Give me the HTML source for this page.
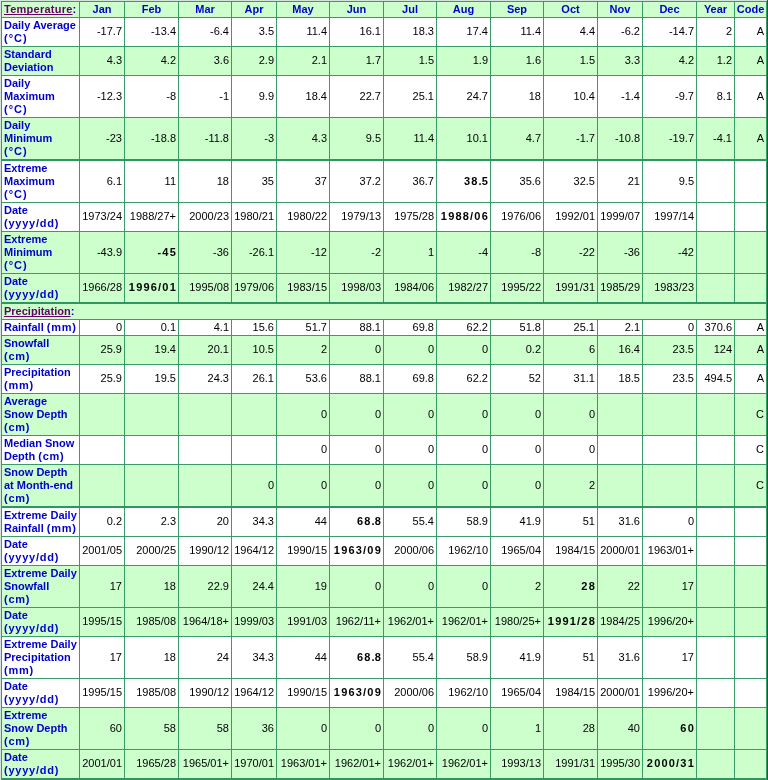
<!DOCTYPE html>
<html><head><meta charset="utf-8"><style>
*{margin:0;padding:0;box-sizing:border-box}
html,body{width:768px;height:780px;overflow:hidden;background:#d5e5dd}
body{position:relative;font-family:"Liberation Sans",sans-serif;font-size:11px;line-height:13px;color:#000}
.r{position:absolute;left:1px;width:766px}
.h{position:absolute;left:1px;width:766px;background:#389b68}
.hk{position:absolute;left:1px;width:766px;background:#2f9661}
.v{position:absolute;width:1px;background:#389b68}
.c{position:absolute;display:flex;align-items:center;white-space:nowrap}
#tx{position:absolute;left:0;top:0;width:768px;height:780px;will-change:transform}
.l{font-weight:bold;color:#0000cc;padding-left:2px;align-items:flex-start;padding-top:1px}
.d{justify-content:flex-end;padding-right:2px;align-items:flex-start}
.m{font-weight:bold;color:#0000cc;justify-content:center}
.b{font-weight:bold;letter-spacing:1.2px;padding-right:1px}
a{color:#660066;text-decoration:underline;text-decoration-skip-ink:none}
.t{letter-spacing:.25px}
.p{letter-spacing:.75px}
.q{letter-spacing:1px}
</style></head><body>
<div class="r" style="top:2px;height:15px;background:#ccffcc"></div>
<div class="v" style="left:79px;top:2px;height:15px"></div>
<div class="v" style="left:124px;top:2px;height:15px"></div>
<div class="v" style="left:178px;top:2px;height:15px"></div>
<div class="v" style="left:231px;top:2px;height:15px"></div>
<div class="v" style="left:276px;top:2px;height:15px"></div>
<div class="v" style="left:329px;top:2px;height:15px"></div>
<div class="v" style="left:383px;top:2px;height:15px"></div>
<div class="v" style="left:436px;top:2px;height:15px"></div>
<div class="v" style="left:490px;top:2px;height:15px"></div>
<div class="v" style="left:543px;top:2px;height:15px"></div>
<div class="v" style="left:597px;top:2px;height:15px"></div>
<div class="v" style="left:642px;top:2px;height:15px"></div>
<div class="v" style="left:696px;top:2px;height:15px"></div>
<div class="v" style="left:734px;top:2px;height:15px"></div>
<div class="r" style="top:18px;height:28px;background:#ffffff"></div>
<div class="v" style="left:79px;top:18px;height:28px"></div>
<div class="v" style="left:124px;top:18px;height:28px"></div>
<div class="v" style="left:178px;top:18px;height:28px"></div>
<div class="v" style="left:231px;top:18px;height:28px"></div>
<div class="v" style="left:276px;top:18px;height:28px"></div>
<div class="v" style="left:329px;top:18px;height:28px"></div>
<div class="v" style="left:383px;top:18px;height:28px"></div>
<div class="v" style="left:436px;top:18px;height:28px"></div>
<div class="v" style="left:490px;top:18px;height:28px"></div>
<div class="v" style="left:543px;top:18px;height:28px"></div>
<div class="v" style="left:597px;top:18px;height:28px"></div>
<div class="v" style="left:642px;top:18px;height:28px"></div>
<div class="v" style="left:696px;top:18px;height:28px"></div>
<div class="v" style="left:734px;top:18px;height:28px"></div>
<div class="r" style="top:47px;height:28px;background:#ccffcc"></div>
<div class="v" style="left:79px;top:47px;height:28px"></div>
<div class="v" style="left:124px;top:47px;height:28px"></div>
<div class="v" style="left:178px;top:47px;height:28px"></div>
<div class="v" style="left:231px;top:47px;height:28px"></div>
<div class="v" style="left:276px;top:47px;height:28px"></div>
<div class="v" style="left:329px;top:47px;height:28px"></div>
<div class="v" style="left:383px;top:47px;height:28px"></div>
<div class="v" style="left:436px;top:47px;height:28px"></div>
<div class="v" style="left:490px;top:47px;height:28px"></div>
<div class="v" style="left:543px;top:47px;height:28px"></div>
<div class="v" style="left:597px;top:47px;height:28px"></div>
<div class="v" style="left:642px;top:47px;height:28px"></div>
<div class="v" style="left:696px;top:47px;height:28px"></div>
<div class="v" style="left:734px;top:47px;height:28px"></div>
<div class="r" style="top:76px;height:41px;background:#ffffff"></div>
<div class="v" style="left:79px;top:76px;height:41px"></div>
<div class="v" style="left:124px;top:76px;height:41px"></div>
<div class="v" style="left:178px;top:76px;height:41px"></div>
<div class="v" style="left:231px;top:76px;height:41px"></div>
<div class="v" style="left:276px;top:76px;height:41px"></div>
<div class="v" style="left:329px;top:76px;height:41px"></div>
<div class="v" style="left:383px;top:76px;height:41px"></div>
<div class="v" style="left:436px;top:76px;height:41px"></div>
<div class="v" style="left:490px;top:76px;height:41px"></div>
<div class="v" style="left:543px;top:76px;height:41px"></div>
<div class="v" style="left:597px;top:76px;height:41px"></div>
<div class="v" style="left:642px;top:76px;height:41px"></div>
<div class="v" style="left:696px;top:76px;height:41px"></div>
<div class="v" style="left:734px;top:76px;height:41px"></div>
<div class="r" style="top:118px;height:41px;background:#ccffcc"></div>
<div class="v" style="left:79px;top:118px;height:41px"></div>
<div class="v" style="left:124px;top:118px;height:41px"></div>
<div class="v" style="left:178px;top:118px;height:41px"></div>
<div class="v" style="left:231px;top:118px;height:41px"></div>
<div class="v" style="left:276px;top:118px;height:41px"></div>
<div class="v" style="left:329px;top:118px;height:41px"></div>
<div class="v" style="left:383px;top:118px;height:41px"></div>
<div class="v" style="left:436px;top:118px;height:41px"></div>
<div class="v" style="left:490px;top:118px;height:41px"></div>
<div class="v" style="left:543px;top:118px;height:41px"></div>
<div class="v" style="left:597px;top:118px;height:41px"></div>
<div class="v" style="left:642px;top:118px;height:41px"></div>
<div class="v" style="left:696px;top:118px;height:41px"></div>
<div class="v" style="left:734px;top:118px;height:41px"></div>
<div class="r" style="top:161px;height:41px;background:#ffffff"></div>
<div class="v" style="left:79px;top:161px;height:41px"></div>
<div class="v" style="left:124px;top:161px;height:41px"></div>
<div class="v" style="left:178px;top:161px;height:41px"></div>
<div class="v" style="left:231px;top:161px;height:41px"></div>
<div class="v" style="left:276px;top:161px;height:41px"></div>
<div class="v" style="left:329px;top:161px;height:41px"></div>
<div class="v" style="left:383px;top:161px;height:41px"></div>
<div class="v" style="left:436px;top:161px;height:41px"></div>
<div class="v" style="left:490px;top:161px;height:41px"></div>
<div class="v" style="left:543px;top:161px;height:41px"></div>
<div class="v" style="left:597px;top:161px;height:41px"></div>
<div class="v" style="left:642px;top:161px;height:41px"></div>
<div class="v" style="left:696px;top:161px;height:41px"></div>
<div class="v" style="left:734px;top:161px;height:41px"></div>
<div class="r" style="top:203px;height:28px;background:#ffffff"></div>
<div class="v" style="left:79px;top:203px;height:28px"></div>
<div class="v" style="left:124px;top:203px;height:28px"></div>
<div class="v" style="left:178px;top:203px;height:28px"></div>
<div class="v" style="left:231px;top:203px;height:28px"></div>
<div class="v" style="left:276px;top:203px;height:28px"></div>
<div class="v" style="left:329px;top:203px;height:28px"></div>
<div class="v" style="left:383px;top:203px;height:28px"></div>
<div class="v" style="left:436px;top:203px;height:28px"></div>
<div class="v" style="left:490px;top:203px;height:28px"></div>
<div class="v" style="left:543px;top:203px;height:28px"></div>
<div class="v" style="left:597px;top:203px;height:28px"></div>
<div class="v" style="left:642px;top:203px;height:28px"></div>
<div class="v" style="left:696px;top:203px;height:28px"></div>
<div class="v" style="left:734px;top:203px;height:28px"></div>
<div class="r" style="top:232px;height:41px;background:#ccffcc"></div>
<div class="v" style="left:79px;top:232px;height:41px"></div>
<div class="v" style="left:124px;top:232px;height:41px"></div>
<div class="v" style="left:178px;top:232px;height:41px"></div>
<div class="v" style="left:231px;top:232px;height:41px"></div>
<div class="v" style="left:276px;top:232px;height:41px"></div>
<div class="v" style="left:329px;top:232px;height:41px"></div>
<div class="v" style="left:383px;top:232px;height:41px"></div>
<div class="v" style="left:436px;top:232px;height:41px"></div>
<div class="v" style="left:490px;top:232px;height:41px"></div>
<div class="v" style="left:543px;top:232px;height:41px"></div>
<div class="v" style="left:597px;top:232px;height:41px"></div>
<div class="v" style="left:642px;top:232px;height:41px"></div>
<div class="v" style="left:696px;top:232px;height:41px"></div>
<div class="v" style="left:734px;top:232px;height:41px"></div>
<div class="r" style="top:274px;height:28px;background:#ccffcc"></div>
<div class="v" style="left:79px;top:274px;height:28px"></div>
<div class="v" style="left:124px;top:274px;height:28px"></div>
<div class="v" style="left:178px;top:274px;height:28px"></div>
<div class="v" style="left:231px;top:274px;height:28px"></div>
<div class="v" style="left:276px;top:274px;height:28px"></div>
<div class="v" style="left:329px;top:274px;height:28px"></div>
<div class="v" style="left:383px;top:274px;height:28px"></div>
<div class="v" style="left:436px;top:274px;height:28px"></div>
<div class="v" style="left:490px;top:274px;height:28px"></div>
<div class="v" style="left:543px;top:274px;height:28px"></div>
<div class="v" style="left:597px;top:274px;height:28px"></div>
<div class="v" style="left:642px;top:274px;height:28px"></div>
<div class="v" style="left:696px;top:274px;height:28px"></div>
<div class="v" style="left:734px;top:274px;height:28px"></div>
<div class="r" style="top:304px;height:15px;background:#ccffcc"></div>
<div class="r" style="top:320px;height:15px;background:#ffffff"></div>
<div class="v" style="left:79px;top:320px;height:15px"></div>
<div class="v" style="left:124px;top:320px;height:15px"></div>
<div class="v" style="left:178px;top:320px;height:15px"></div>
<div class="v" style="left:231px;top:320px;height:15px"></div>
<div class="v" style="left:276px;top:320px;height:15px"></div>
<div class="v" style="left:329px;top:320px;height:15px"></div>
<div class="v" style="left:383px;top:320px;height:15px"></div>
<div class="v" style="left:436px;top:320px;height:15px"></div>
<div class="v" style="left:490px;top:320px;height:15px"></div>
<div class="v" style="left:543px;top:320px;height:15px"></div>
<div class="v" style="left:597px;top:320px;height:15px"></div>
<div class="v" style="left:642px;top:320px;height:15px"></div>
<div class="v" style="left:696px;top:320px;height:15px"></div>
<div class="v" style="left:734px;top:320px;height:15px"></div>
<div class="r" style="top:336px;height:28px;background:#ccffcc"></div>
<div class="v" style="left:79px;top:336px;height:28px"></div>
<div class="v" style="left:124px;top:336px;height:28px"></div>
<div class="v" style="left:178px;top:336px;height:28px"></div>
<div class="v" style="left:231px;top:336px;height:28px"></div>
<div class="v" style="left:276px;top:336px;height:28px"></div>
<div class="v" style="left:329px;top:336px;height:28px"></div>
<div class="v" style="left:383px;top:336px;height:28px"></div>
<div class="v" style="left:436px;top:336px;height:28px"></div>
<div class="v" style="left:490px;top:336px;height:28px"></div>
<div class="v" style="left:543px;top:336px;height:28px"></div>
<div class="v" style="left:597px;top:336px;height:28px"></div>
<div class="v" style="left:642px;top:336px;height:28px"></div>
<div class="v" style="left:696px;top:336px;height:28px"></div>
<div class="v" style="left:734px;top:336px;height:28px"></div>
<div class="r" style="top:365px;height:28px;background:#ffffff"></div>
<div class="v" style="left:79px;top:365px;height:28px"></div>
<div class="v" style="left:124px;top:365px;height:28px"></div>
<div class="v" style="left:178px;top:365px;height:28px"></div>
<div class="v" style="left:231px;top:365px;height:28px"></div>
<div class="v" style="left:276px;top:365px;height:28px"></div>
<div class="v" style="left:329px;top:365px;height:28px"></div>
<div class="v" style="left:383px;top:365px;height:28px"></div>
<div class="v" style="left:436px;top:365px;height:28px"></div>
<div class="v" style="left:490px;top:365px;height:28px"></div>
<div class="v" style="left:543px;top:365px;height:28px"></div>
<div class="v" style="left:597px;top:365px;height:28px"></div>
<div class="v" style="left:642px;top:365px;height:28px"></div>
<div class="v" style="left:696px;top:365px;height:28px"></div>
<div class="v" style="left:734px;top:365px;height:28px"></div>
<div class="r" style="top:394px;height:41px;background:#ccffcc"></div>
<div class="v" style="left:79px;top:394px;height:41px"></div>
<div class="v" style="left:124px;top:394px;height:41px"></div>
<div class="v" style="left:178px;top:394px;height:41px"></div>
<div class="v" style="left:231px;top:394px;height:41px"></div>
<div class="v" style="left:276px;top:394px;height:41px"></div>
<div class="v" style="left:329px;top:394px;height:41px"></div>
<div class="v" style="left:383px;top:394px;height:41px"></div>
<div class="v" style="left:436px;top:394px;height:41px"></div>
<div class="v" style="left:490px;top:394px;height:41px"></div>
<div class="v" style="left:543px;top:394px;height:41px"></div>
<div class="v" style="left:597px;top:394px;height:41px"></div>
<div class="v" style="left:642px;top:394px;height:41px"></div>
<div class="v" style="left:696px;top:394px;height:41px"></div>
<div class="v" style="left:734px;top:394px;height:41px"></div>
<div class="r" style="top:436px;height:28px;background:#ffffff"></div>
<div class="v" style="left:79px;top:436px;height:28px"></div>
<div class="v" style="left:124px;top:436px;height:28px"></div>
<div class="v" style="left:178px;top:436px;height:28px"></div>
<div class="v" style="left:231px;top:436px;height:28px"></div>
<div class="v" style="left:276px;top:436px;height:28px"></div>
<div class="v" style="left:329px;top:436px;height:28px"></div>
<div class="v" style="left:383px;top:436px;height:28px"></div>
<div class="v" style="left:436px;top:436px;height:28px"></div>
<div class="v" style="left:490px;top:436px;height:28px"></div>
<div class="v" style="left:543px;top:436px;height:28px"></div>
<div class="v" style="left:597px;top:436px;height:28px"></div>
<div class="v" style="left:642px;top:436px;height:28px"></div>
<div class="v" style="left:696px;top:436px;height:28px"></div>
<div class="v" style="left:734px;top:436px;height:28px"></div>
<div class="r" style="top:465px;height:41px;background:#ccffcc"></div>
<div class="v" style="left:79px;top:465px;height:41px"></div>
<div class="v" style="left:124px;top:465px;height:41px"></div>
<div class="v" style="left:178px;top:465px;height:41px"></div>
<div class="v" style="left:231px;top:465px;height:41px"></div>
<div class="v" style="left:276px;top:465px;height:41px"></div>
<div class="v" style="left:329px;top:465px;height:41px"></div>
<div class="v" style="left:383px;top:465px;height:41px"></div>
<div class="v" style="left:436px;top:465px;height:41px"></div>
<div class="v" style="left:490px;top:465px;height:41px"></div>
<div class="v" style="left:543px;top:465px;height:41px"></div>
<div class="v" style="left:597px;top:465px;height:41px"></div>
<div class="v" style="left:642px;top:465px;height:41px"></div>
<div class="v" style="left:696px;top:465px;height:41px"></div>
<div class="v" style="left:734px;top:465px;height:41px"></div>
<div class="r" style="top:508px;height:28px;background:#ffffff"></div>
<div class="v" style="left:79px;top:508px;height:28px"></div>
<div class="v" style="left:124px;top:508px;height:28px"></div>
<div class="v" style="left:178px;top:508px;height:28px"></div>
<div class="v" style="left:231px;top:508px;height:28px"></div>
<div class="v" style="left:276px;top:508px;height:28px"></div>
<div class="v" style="left:329px;top:508px;height:28px"></div>
<div class="v" style="left:383px;top:508px;height:28px"></div>
<div class="v" style="left:436px;top:508px;height:28px"></div>
<div class="v" style="left:490px;top:508px;height:28px"></div>
<div class="v" style="left:543px;top:508px;height:28px"></div>
<div class="v" style="left:597px;top:508px;height:28px"></div>
<div class="v" style="left:642px;top:508px;height:28px"></div>
<div class="v" style="left:696px;top:508px;height:28px"></div>
<div class="v" style="left:734px;top:508px;height:28px"></div>
<div class="r" style="top:537px;height:28px;background:#ffffff"></div>
<div class="v" style="left:79px;top:537px;height:28px"></div>
<div class="v" style="left:124px;top:537px;height:28px"></div>
<div class="v" style="left:178px;top:537px;height:28px"></div>
<div class="v" style="left:231px;top:537px;height:28px"></div>
<div class="v" style="left:276px;top:537px;height:28px"></div>
<div class="v" style="left:329px;top:537px;height:28px"></div>
<div class="v" style="left:383px;top:537px;height:28px"></div>
<div class="v" style="left:436px;top:537px;height:28px"></div>
<div class="v" style="left:490px;top:537px;height:28px"></div>
<div class="v" style="left:543px;top:537px;height:28px"></div>
<div class="v" style="left:597px;top:537px;height:28px"></div>
<div class="v" style="left:642px;top:537px;height:28px"></div>
<div class="v" style="left:696px;top:537px;height:28px"></div>
<div class="v" style="left:734px;top:537px;height:28px"></div>
<div class="r" style="top:566px;height:41px;background:#ccffcc"></div>
<div class="v" style="left:79px;top:566px;height:41px"></div>
<div class="v" style="left:124px;top:566px;height:41px"></div>
<div class="v" style="left:178px;top:566px;height:41px"></div>
<div class="v" style="left:231px;top:566px;height:41px"></div>
<div class="v" style="left:276px;top:566px;height:41px"></div>
<div class="v" style="left:329px;top:566px;height:41px"></div>
<div class="v" style="left:383px;top:566px;height:41px"></div>
<div class="v" style="left:436px;top:566px;height:41px"></div>
<div class="v" style="left:490px;top:566px;height:41px"></div>
<div class="v" style="left:543px;top:566px;height:41px"></div>
<div class="v" style="left:597px;top:566px;height:41px"></div>
<div class="v" style="left:642px;top:566px;height:41px"></div>
<div class="v" style="left:696px;top:566px;height:41px"></div>
<div class="v" style="left:734px;top:566px;height:41px"></div>
<div class="r" style="top:608px;height:28px;background:#ccffcc"></div>
<div class="v" style="left:79px;top:608px;height:28px"></div>
<div class="v" style="left:124px;top:608px;height:28px"></div>
<div class="v" style="left:178px;top:608px;height:28px"></div>
<div class="v" style="left:231px;top:608px;height:28px"></div>
<div class="v" style="left:276px;top:608px;height:28px"></div>
<div class="v" style="left:329px;top:608px;height:28px"></div>
<div class="v" style="left:383px;top:608px;height:28px"></div>
<div class="v" style="left:436px;top:608px;height:28px"></div>
<div class="v" style="left:490px;top:608px;height:28px"></div>
<div class="v" style="left:543px;top:608px;height:28px"></div>
<div class="v" style="left:597px;top:608px;height:28px"></div>
<div class="v" style="left:642px;top:608px;height:28px"></div>
<div class="v" style="left:696px;top:608px;height:28px"></div>
<div class="v" style="left:734px;top:608px;height:28px"></div>
<div class="r" style="top:637px;height:41px;background:#ffffff"></div>
<div class="v" style="left:79px;top:637px;height:41px"></div>
<div class="v" style="left:124px;top:637px;height:41px"></div>
<div class="v" style="left:178px;top:637px;height:41px"></div>
<div class="v" style="left:231px;top:637px;height:41px"></div>
<div class="v" style="left:276px;top:637px;height:41px"></div>
<div class="v" style="left:329px;top:637px;height:41px"></div>
<div class="v" style="left:383px;top:637px;height:41px"></div>
<div class="v" style="left:436px;top:637px;height:41px"></div>
<div class="v" style="left:490px;top:637px;height:41px"></div>
<div class="v" style="left:543px;top:637px;height:41px"></div>
<div class="v" style="left:597px;top:637px;height:41px"></div>
<div class="v" style="left:642px;top:637px;height:41px"></div>
<div class="v" style="left:696px;top:637px;height:41px"></div>
<div class="v" style="left:734px;top:637px;height:41px"></div>
<div class="r" style="top:679px;height:28px;background:#ffffff"></div>
<div class="v" style="left:79px;top:679px;height:28px"></div>
<div class="v" style="left:124px;top:679px;height:28px"></div>
<div class="v" style="left:178px;top:679px;height:28px"></div>
<div class="v" style="left:231px;top:679px;height:28px"></div>
<div class="v" style="left:276px;top:679px;height:28px"></div>
<div class="v" style="left:329px;top:679px;height:28px"></div>
<div class="v" style="left:383px;top:679px;height:28px"></div>
<div class="v" style="left:436px;top:679px;height:28px"></div>
<div class="v" style="left:490px;top:679px;height:28px"></div>
<div class="v" style="left:543px;top:679px;height:28px"></div>
<div class="v" style="left:597px;top:679px;height:28px"></div>
<div class="v" style="left:642px;top:679px;height:28px"></div>
<div class="v" style="left:696px;top:679px;height:28px"></div>
<div class="v" style="left:734px;top:679px;height:28px"></div>
<div class="r" style="top:708px;height:41px;background:#ccffcc"></div>
<div class="v" style="left:79px;top:708px;height:41px"></div>
<div class="v" style="left:124px;top:708px;height:41px"></div>
<div class="v" style="left:178px;top:708px;height:41px"></div>
<div class="v" style="left:231px;top:708px;height:41px"></div>
<div class="v" style="left:276px;top:708px;height:41px"></div>
<div class="v" style="left:329px;top:708px;height:41px"></div>
<div class="v" style="left:383px;top:708px;height:41px"></div>
<div class="v" style="left:436px;top:708px;height:41px"></div>
<div class="v" style="left:490px;top:708px;height:41px"></div>
<div class="v" style="left:543px;top:708px;height:41px"></div>
<div class="v" style="left:597px;top:708px;height:41px"></div>
<div class="v" style="left:642px;top:708px;height:41px"></div>
<div class="v" style="left:696px;top:708px;height:41px"></div>
<div class="v" style="left:734px;top:708px;height:41px"></div>
<div class="r" style="top:750px;height:28px;background:#ccffcc"></div>
<div class="v" style="left:79px;top:750px;height:28px"></div>
<div class="v" style="left:124px;top:750px;height:28px"></div>
<div class="v" style="left:178px;top:750px;height:28px"></div>
<div class="v" style="left:231px;top:750px;height:28px"></div>
<div class="v" style="left:276px;top:750px;height:28px"></div>
<div class="v" style="left:329px;top:750px;height:28px"></div>
<div class="v" style="left:383px;top:750px;height:28px"></div>
<div class="v" style="left:436px;top:750px;height:28px"></div>
<div class="v" style="left:490px;top:750px;height:28px"></div>
<div class="v" style="left:543px;top:750px;height:28px"></div>
<div class="v" style="left:597px;top:750px;height:28px"></div>
<div class="v" style="left:642px;top:750px;height:28px"></div>
<div class="v" style="left:696px;top:750px;height:28px"></div>
<div class="v" style="left:734px;top:750px;height:28px"></div>
<div class="h" style="top:1px;height:1px"></div>
<div class="h" style="top:17px;height:1px"></div>
<div class="h" style="top:46px;height:1px"></div>
<div class="h" style="top:75px;height:1px"></div>
<div class="h" style="top:117px;height:1px"></div>
<div class="hk" style="top:159px;height:2px"></div>
<div class="h" style="top:202px;height:1px"></div>
<div class="h" style="top:231px;height:1px"></div>
<div class="h" style="top:273px;height:1px"></div>
<div class="hk" style="top:302px;height:2px"></div>
<div class="h" style="top:319px;height:1px"></div>
<div class="h" style="top:335px;height:1px"></div>
<div class="h" style="top:364px;height:1px"></div>
<div class="h" style="top:393px;height:1px"></div>
<div class="h" style="top:435px;height:1px"></div>
<div class="h" style="top:464px;height:1px"></div>
<div class="hk" style="top:506px;height:2px"></div>
<div class="h" style="top:536px;height:1px"></div>
<div class="h" style="top:565px;height:1px"></div>
<div class="h" style="top:607px;height:1px"></div>
<div class="h" style="top:636px;height:1px"></div>
<div class="h" style="top:678px;height:1px"></div>
<div class="h" style="top:707px;height:1px"></div>
<div class="h" style="top:749px;height:1px"></div>
<div class="hk" style="top:778px;height:2px"></div>
<div class="v" style="left:1px;top:1px;height:779px"></div>
<div class="v" style="left:766px;top:1px;height:779px"></div>
<div class="v" style="left:767px;top:0px;height:780px;background:#1e5a3c"></div>
<div id="tx">
<div class="c l" style="left:2px;top:2px;width:77px;height:15px;align-items:center;padding-top:0"><span><a class="t">Temperature</a>:</span></div>
<div class="c m" style="left:80px;top:2px;width:44px;height:15px">Jan</div>
<div class="c m" style="left:125px;top:2px;width:53px;height:15px">Feb</div>
<div class="c m" style="left:179px;top:2px;width:52px;height:15px">Mar</div>
<div class="c m" style="left:232px;top:2px;width:44px;height:15px">Apr</div>
<div class="c m" style="left:277px;top:2px;width:52px;height:15px">May</div>
<div class="c m" style="left:330px;top:2px;width:53px;height:15px">Jun</div>
<div class="c m" style="left:384px;top:2px;width:52px;height:15px">Jul</div>
<div class="c m" style="left:437px;top:2px;width:53px;height:15px">Aug</div>
<div class="c m" style="left:491px;top:2px;width:52px;height:15px">Sep</div>
<div class="c m" style="left:544px;top:2px;width:53px;height:15px">Oct</div>
<div class="c m" style="left:598px;top:2px;width:44px;height:15px">Nov</div>
<div class="c m" style="left:643px;top:2px;width:53px;height:15px">Dec</div>
<div class="c m" style="left:697px;top:2px;width:37px;height:15px">Year</div>
<div class="c m" style="left:735px;top:2px;width:31px;height:15px">Code</div>
<div class="c l" style="left:2px;top:18px;width:77px;height:28px"><div>Daily Average<br><span class="q">(°C)</span></div></div>
<div class="c d" style="left:80px;top:18px;width:44px;height:28px;padding-top:7px">-17.7</div>
<div class="c d" style="left:125px;top:18px;width:53px;height:28px;padding-top:7px">-13.4</div>
<div class="c d" style="left:179px;top:18px;width:52px;height:28px;padding-top:7px">-6.4</div>
<div class="c d" style="left:232px;top:18px;width:44px;height:28px;padding-top:7px">3.5</div>
<div class="c d" style="left:277px;top:18px;width:52px;height:28px;padding-top:7px">11.4</div>
<div class="c d" style="left:330px;top:18px;width:53px;height:28px;padding-top:7px">16.1</div>
<div class="c d" style="left:384px;top:18px;width:52px;height:28px;padding-top:7px">18.3</div>
<div class="c d" style="left:437px;top:18px;width:53px;height:28px;padding-top:7px">17.4</div>
<div class="c d" style="left:491px;top:18px;width:52px;height:28px;padding-top:7px">11.4</div>
<div class="c d" style="left:544px;top:18px;width:53px;height:28px;padding-top:7px">4.4</div>
<div class="c d" style="left:598px;top:18px;width:44px;height:28px;padding-top:7px">-6.2</div>
<div class="c d" style="left:643px;top:18px;width:53px;height:28px;padding-top:7px">-14.7</div>
<div class="c d" style="left:697px;top:18px;width:37px;height:28px;padding-top:7px">2</div>
<div class="c d" style="left:735px;top:18px;width:31px;height:28px;padding-top:7px">A</div>
<div class="c l" style="left:2px;top:47px;width:77px;height:28px"><div>Standard<br>Deviation</div></div>
<div class="c d" style="left:80px;top:47px;width:44px;height:28px;padding-top:7px">4.3</div>
<div class="c d" style="left:125px;top:47px;width:53px;height:28px;padding-top:7px">4.2</div>
<div class="c d" style="left:179px;top:47px;width:52px;height:28px;padding-top:7px">3.6</div>
<div class="c d" style="left:232px;top:47px;width:44px;height:28px;padding-top:7px">2.9</div>
<div class="c d" style="left:277px;top:47px;width:52px;height:28px;padding-top:7px">2.1</div>
<div class="c d" style="left:330px;top:47px;width:53px;height:28px;padding-top:7px">1.7</div>
<div class="c d" style="left:384px;top:47px;width:52px;height:28px;padding-top:7px">1.5</div>
<div class="c d" style="left:437px;top:47px;width:53px;height:28px;padding-top:7px">1.9</div>
<div class="c d" style="left:491px;top:47px;width:52px;height:28px;padding-top:7px">1.6</div>
<div class="c d" style="left:544px;top:47px;width:53px;height:28px;padding-top:7px">1.5</div>
<div class="c d" style="left:598px;top:47px;width:44px;height:28px;padding-top:7px">3.3</div>
<div class="c d" style="left:643px;top:47px;width:53px;height:28px;padding-top:7px">4.2</div>
<div class="c d" style="left:697px;top:47px;width:37px;height:28px;padding-top:7px">1.2</div>
<div class="c d" style="left:735px;top:47px;width:31px;height:28px;padding-top:7px">A</div>
<div class="c l" style="left:2px;top:76px;width:77px;height:41px"><div>Daily<br>Maximum<br><span class="q">(°C)</span></div></div>
<div class="c d" style="left:80px;top:76px;width:44px;height:41px;padding-top:14px">-12.3</div>
<div class="c d" style="left:125px;top:76px;width:53px;height:41px;padding-top:14px">-8</div>
<div class="c d" style="left:179px;top:76px;width:52px;height:41px;padding-top:14px">-1</div>
<div class="c d" style="left:232px;top:76px;width:44px;height:41px;padding-top:14px">9.9</div>
<div class="c d" style="left:277px;top:76px;width:52px;height:41px;padding-top:14px">18.4</div>
<div class="c d" style="left:330px;top:76px;width:53px;height:41px;padding-top:14px">22.7</div>
<div class="c d" style="left:384px;top:76px;width:52px;height:41px;padding-top:14px">25.1</div>
<div class="c d" style="left:437px;top:76px;width:53px;height:41px;padding-top:14px">24.7</div>
<div class="c d" style="left:491px;top:76px;width:52px;height:41px;padding-top:14px">18</div>
<div class="c d" style="left:544px;top:76px;width:53px;height:41px;padding-top:14px">10.4</div>
<div class="c d" style="left:598px;top:76px;width:44px;height:41px;padding-top:14px">-1.4</div>
<div class="c d" style="left:643px;top:76px;width:53px;height:41px;padding-top:14px">-9.7</div>
<div class="c d" style="left:697px;top:76px;width:37px;height:41px;padding-top:14px">8.1</div>
<div class="c d" style="left:735px;top:76px;width:31px;height:41px;padding-top:14px">A</div>
<div class="c l" style="left:2px;top:118px;width:77px;height:41px"><div>Daily<br>Minimum<br><span class="q">(°C)</span></div></div>
<div class="c d" style="left:80px;top:118px;width:44px;height:41px;padding-top:14px">-23</div>
<div class="c d" style="left:125px;top:118px;width:53px;height:41px;padding-top:14px">-18.8</div>
<div class="c d" style="left:179px;top:118px;width:52px;height:41px;padding-top:14px">-11.8</div>
<div class="c d" style="left:232px;top:118px;width:44px;height:41px;padding-top:14px">-3</div>
<div class="c d" style="left:277px;top:118px;width:52px;height:41px;padding-top:14px">4.3</div>
<div class="c d" style="left:330px;top:118px;width:53px;height:41px;padding-top:14px">9.5</div>
<div class="c d" style="left:384px;top:118px;width:52px;height:41px;padding-top:14px">11.4</div>
<div class="c d" style="left:437px;top:118px;width:53px;height:41px;padding-top:14px">10.1</div>
<div class="c d" style="left:491px;top:118px;width:52px;height:41px;padding-top:14px">4.7</div>
<div class="c d" style="left:544px;top:118px;width:53px;height:41px;padding-top:14px">-1.7</div>
<div class="c d" style="left:598px;top:118px;width:44px;height:41px;padding-top:14px">-10.8</div>
<div class="c d" style="left:643px;top:118px;width:53px;height:41px;padding-top:14px">-19.7</div>
<div class="c d" style="left:697px;top:118px;width:37px;height:41px;padding-top:14px">-4.1</div>
<div class="c d" style="left:735px;top:118px;width:31px;height:41px;padding-top:14px">A</div>
<div class="c l" style="left:2px;top:161px;width:77px;height:41px"><div>Extreme<br>Maximum<br><span class="q">(°C)</span></div></div>
<div class="c d" style="left:80px;top:161px;width:44px;height:41px;padding-top:14px">6.1</div>
<div class="c d" style="left:125px;top:161px;width:53px;height:41px;padding-top:14px">11</div>
<div class="c d" style="left:179px;top:161px;width:52px;height:41px;padding-top:14px">18</div>
<div class="c d" style="left:232px;top:161px;width:44px;height:41px;padding-top:14px">35</div>
<div class="c d" style="left:277px;top:161px;width:52px;height:41px;padding-top:14px">37</div>
<div class="c d" style="left:330px;top:161px;width:53px;height:41px;padding-top:14px">37.2</div>
<div class="c d" style="left:384px;top:161px;width:52px;height:41px;padding-top:14px">36.7</div>
<div class="c d b" style="left:437px;top:161px;width:53px;height:41px;padding-top:14px"><div>38<span style="letter-spacing:0">.</span>5</div></div>
<div class="c d" style="left:491px;top:161px;width:52px;height:41px;padding-top:14px">35.6</div>
<div class="c d" style="left:544px;top:161px;width:53px;height:41px;padding-top:14px">32.5</div>
<div class="c d" style="left:598px;top:161px;width:44px;height:41px;padding-top:14px">21</div>
<div class="c d" style="left:643px;top:161px;width:53px;height:41px;padding-top:14px">9.5</div>
<div class="c l" style="left:2px;top:203px;width:77px;height:28px"><div>Date<br><span class="p">(yyyy/dd)</span></div></div>
<div class="c d" style="left:80px;top:203px;width:44px;height:28px;padding-top:7px">1973/24</div>
<div class="c d" style="left:125px;top:203px;width:53px;height:28px;padding-top:7px">1988/27+</div>
<div class="c d" style="left:179px;top:203px;width:52px;height:28px;padding-top:7px">2000/23</div>
<div class="c d" style="left:232px;top:203px;width:44px;height:28px;padding-top:7px">1980/21</div>
<div class="c d" style="left:277px;top:203px;width:52px;height:28px;padding-top:7px">1980/22</div>
<div class="c d" style="left:330px;top:203px;width:53px;height:28px;padding-top:7px">1979/13</div>
<div class="c d" style="left:384px;top:203px;width:52px;height:28px;padding-top:7px">1975/28</div>
<div class="c d b" style="left:437px;top:203px;width:53px;height:28px;padding-top:7px">1988/06</div>
<div class="c d" style="left:491px;top:203px;width:52px;height:28px;padding-top:7px">1976/06</div>
<div class="c d" style="left:544px;top:203px;width:53px;height:28px;padding-top:7px">1992/01</div>
<div class="c d" style="left:598px;top:203px;width:44px;height:28px;padding-top:7px">1999/07</div>
<div class="c d" style="left:643px;top:203px;width:53px;height:28px;padding-top:7px">1997/14</div>
<div class="c l" style="left:2px;top:232px;width:77px;height:41px"><div>Extreme<br>Minimum<br><span class="q">(°C)</span></div></div>
<div class="c d" style="left:80px;top:232px;width:44px;height:41px;padding-top:14px">-43.9</div>
<div class="c d b" style="left:125px;top:232px;width:53px;height:41px;padding-top:14px">-45</div>
<div class="c d" style="left:179px;top:232px;width:52px;height:41px;padding-top:14px">-36</div>
<div class="c d" style="left:232px;top:232px;width:44px;height:41px;padding-top:14px">-26.1</div>
<div class="c d" style="left:277px;top:232px;width:52px;height:41px;padding-top:14px">-12</div>
<div class="c d" style="left:330px;top:232px;width:53px;height:41px;padding-top:14px">-2</div>
<div class="c d" style="left:384px;top:232px;width:52px;height:41px;padding-top:14px">1</div>
<div class="c d" style="left:437px;top:232px;width:53px;height:41px;padding-top:14px">-4</div>
<div class="c d" style="left:491px;top:232px;width:52px;height:41px;padding-top:14px">-8</div>
<div class="c d" style="left:544px;top:232px;width:53px;height:41px;padding-top:14px">-22</div>
<div class="c d" style="left:598px;top:232px;width:44px;height:41px;padding-top:14px">-36</div>
<div class="c d" style="left:643px;top:232px;width:53px;height:41px;padding-top:14px">-42</div>
<div class="c l" style="left:2px;top:274px;width:77px;height:28px"><div>Date<br><span class="p">(yyyy/dd)</span></div></div>
<div class="c d" style="left:80px;top:274px;width:44px;height:28px;padding-top:7px">1966/28</div>
<div class="c d b" style="left:125px;top:274px;width:53px;height:28px;padding-top:7px">1996/01</div>
<div class="c d" style="left:179px;top:274px;width:52px;height:28px;padding-top:7px">1995/08</div>
<div class="c d" style="left:232px;top:274px;width:44px;height:28px;padding-top:7px">1979/06</div>
<div class="c d" style="left:277px;top:274px;width:52px;height:28px;padding-top:7px">1983/15</div>
<div class="c d" style="left:330px;top:274px;width:53px;height:28px;padding-top:7px">1998/03</div>
<div class="c d" style="left:384px;top:274px;width:52px;height:28px;padding-top:7px">1984/06</div>
<div class="c d" style="left:437px;top:274px;width:53px;height:28px;padding-top:7px">1982/27</div>
<div class="c d" style="left:491px;top:274px;width:52px;height:28px;padding-top:7px">1995/22</div>
<div class="c d" style="left:544px;top:274px;width:53px;height:28px;padding-top:7px">1991/31</div>
<div class="c d" style="left:598px;top:274px;width:44px;height:28px;padding-top:7px">1985/29</div>
<div class="c d" style="left:643px;top:274px;width:53px;height:28px;padding-top:7px">1983/23</div>
<div class="c l" style="left:2px;top:304px;width:700px;height:15px;align-items:center;padding-top:0"><span><a>Precipitation</a>:</span></div>
<div class="c l" style="left:2px;top:320px;width:77px;height:15px"><div>Rainfall <span class="p">(mm)</span></div></div>
<div class="c d" style="left:80px;top:320px;width:44px;height:15px;padding-top:1px">0</div>
<div class="c d" style="left:125px;top:320px;width:53px;height:15px;padding-top:1px">0.1</div>
<div class="c d" style="left:179px;top:320px;width:52px;height:15px;padding-top:1px">4.1</div>
<div class="c d" style="left:232px;top:320px;width:44px;height:15px;padding-top:1px">15.6</div>
<div class="c d" style="left:277px;top:320px;width:52px;height:15px;padding-top:1px">51.7</div>
<div class="c d" style="left:330px;top:320px;width:53px;height:15px;padding-top:1px">88.1</div>
<div class="c d" style="left:384px;top:320px;width:52px;height:15px;padding-top:1px">69.8</div>
<div class="c d" style="left:437px;top:320px;width:53px;height:15px;padding-top:1px">62.2</div>
<div class="c d" style="left:491px;top:320px;width:52px;height:15px;padding-top:1px">51.8</div>
<div class="c d" style="left:544px;top:320px;width:53px;height:15px;padding-top:1px">25.1</div>
<div class="c d" style="left:598px;top:320px;width:44px;height:15px;padding-top:1px">2.1</div>
<div class="c d" style="left:643px;top:320px;width:53px;height:15px;padding-top:1px">0</div>
<div class="c d" style="left:697px;top:320px;width:37px;height:15px;padding-top:1px">370.6</div>
<div class="c d" style="left:735px;top:320px;width:31px;height:15px;padding-top:1px">A</div>
<div class="c l" style="left:2px;top:336px;width:77px;height:28px"><div>Snowfall<br><span class="p">(cm)</span></div></div>
<div class="c d" style="left:80px;top:336px;width:44px;height:28px;padding-top:7px">25.9</div>
<div class="c d" style="left:125px;top:336px;width:53px;height:28px;padding-top:7px">19.4</div>
<div class="c d" style="left:179px;top:336px;width:52px;height:28px;padding-top:7px">20.1</div>
<div class="c d" style="left:232px;top:336px;width:44px;height:28px;padding-top:7px">10.5</div>
<div class="c d" style="left:277px;top:336px;width:52px;height:28px;padding-top:7px">2</div>
<div class="c d" style="left:330px;top:336px;width:53px;height:28px;padding-top:7px">0</div>
<div class="c d" style="left:384px;top:336px;width:52px;height:28px;padding-top:7px">0</div>
<div class="c d" style="left:437px;top:336px;width:53px;height:28px;padding-top:7px">0</div>
<div class="c d" style="left:491px;top:336px;width:52px;height:28px;padding-top:7px">0.2</div>
<div class="c d" style="left:544px;top:336px;width:53px;height:28px;padding-top:7px">6</div>
<div class="c d" style="left:598px;top:336px;width:44px;height:28px;padding-top:7px">16.4</div>
<div class="c d" style="left:643px;top:336px;width:53px;height:28px;padding-top:7px">23.5</div>
<div class="c d" style="left:697px;top:336px;width:37px;height:28px;padding-top:7px">124</div>
<div class="c d" style="left:735px;top:336px;width:31px;height:28px;padding-top:7px">A</div>
<div class="c l" style="left:2px;top:365px;width:77px;height:28px"><div>Precipitation<br><span class="p">(mm)</span></div></div>
<div class="c d" style="left:80px;top:365px;width:44px;height:28px;padding-top:7px">25.9</div>
<div class="c d" style="left:125px;top:365px;width:53px;height:28px;padding-top:7px">19.5</div>
<div class="c d" style="left:179px;top:365px;width:52px;height:28px;padding-top:7px">24.3</div>
<div class="c d" style="left:232px;top:365px;width:44px;height:28px;padding-top:7px">26.1</div>
<div class="c d" style="left:277px;top:365px;width:52px;height:28px;padding-top:7px">53.6</div>
<div class="c d" style="left:330px;top:365px;width:53px;height:28px;padding-top:7px">88.1</div>
<div class="c d" style="left:384px;top:365px;width:52px;height:28px;padding-top:7px">69.8</div>
<div class="c d" style="left:437px;top:365px;width:53px;height:28px;padding-top:7px">62.2</div>
<div class="c d" style="left:491px;top:365px;width:52px;height:28px;padding-top:7px">52</div>
<div class="c d" style="left:544px;top:365px;width:53px;height:28px;padding-top:7px">31.1</div>
<div class="c d" style="left:598px;top:365px;width:44px;height:28px;padding-top:7px">18.5</div>
<div class="c d" style="left:643px;top:365px;width:53px;height:28px;padding-top:7px">23.5</div>
<div class="c d" style="left:697px;top:365px;width:37px;height:28px;padding-top:7px">494.5</div>
<div class="c d" style="left:735px;top:365px;width:31px;height:28px;padding-top:7px">A</div>
<div class="c l" style="left:2px;top:394px;width:77px;height:41px"><div>Average<br>Snow Depth<br><span class="p">(cm)</span></div></div>
<div class="c d" style="left:277px;top:394px;width:52px;height:41px;padding-top:14px">0</div>
<div class="c d" style="left:330px;top:394px;width:53px;height:41px;padding-top:14px">0</div>
<div class="c d" style="left:384px;top:394px;width:52px;height:41px;padding-top:14px">0</div>
<div class="c d" style="left:437px;top:394px;width:53px;height:41px;padding-top:14px">0</div>
<div class="c d" style="left:491px;top:394px;width:52px;height:41px;padding-top:14px">0</div>
<div class="c d" style="left:544px;top:394px;width:53px;height:41px;padding-top:14px">0</div>
<div class="c d" style="left:735px;top:394px;width:31px;height:41px;padding-top:14px">C</div>
<div class="c l" style="left:2px;top:436px;width:77px;height:28px"><div>Median Snow<br>Depth <span class="p">(cm)</span></div></div>
<div class="c d" style="left:277px;top:436px;width:52px;height:28px;padding-top:7px">0</div>
<div class="c d" style="left:330px;top:436px;width:53px;height:28px;padding-top:7px">0</div>
<div class="c d" style="left:384px;top:436px;width:52px;height:28px;padding-top:7px">0</div>
<div class="c d" style="left:437px;top:436px;width:53px;height:28px;padding-top:7px">0</div>
<div class="c d" style="left:491px;top:436px;width:52px;height:28px;padding-top:7px">0</div>
<div class="c d" style="left:544px;top:436px;width:53px;height:28px;padding-top:7px">0</div>
<div class="c d" style="left:735px;top:436px;width:31px;height:28px;padding-top:7px">C</div>
<div class="c l" style="left:2px;top:465px;width:77px;height:41px"><div>Snow Depth<br>at Month-end<br><span class="p">(cm)</span></div></div>
<div class="c d" style="left:232px;top:465px;width:44px;height:41px;padding-top:14px">0</div>
<div class="c d" style="left:277px;top:465px;width:52px;height:41px;padding-top:14px">0</div>
<div class="c d" style="left:330px;top:465px;width:53px;height:41px;padding-top:14px">0</div>
<div class="c d" style="left:384px;top:465px;width:52px;height:41px;padding-top:14px">0</div>
<div class="c d" style="left:437px;top:465px;width:53px;height:41px;padding-top:14px">0</div>
<div class="c d" style="left:491px;top:465px;width:52px;height:41px;padding-top:14px">0</div>
<div class="c d" style="left:544px;top:465px;width:53px;height:41px;padding-top:14px">2</div>
<div class="c d" style="left:735px;top:465px;width:31px;height:41px;padding-top:14px">C</div>
<div class="c l" style="left:2px;top:508px;width:77px;height:28px"><div>Extreme Daily<br>Rainfall <span class="p">(mm)</span></div></div>
<div class="c d" style="left:80px;top:508px;width:44px;height:28px;padding-top:7px">0.2</div>
<div class="c d" style="left:125px;top:508px;width:53px;height:28px;padding-top:7px">2.3</div>
<div class="c d" style="left:179px;top:508px;width:52px;height:28px;padding-top:7px">20</div>
<div class="c d" style="left:232px;top:508px;width:44px;height:28px;padding-top:7px">34.3</div>
<div class="c d" style="left:277px;top:508px;width:52px;height:28px;padding-top:7px">44</div>
<div class="c d b" style="left:330px;top:508px;width:53px;height:28px;padding-top:7px"><div>68<span style="letter-spacing:0">.</span>8</div></div>
<div class="c d" style="left:384px;top:508px;width:52px;height:28px;padding-top:7px">55.4</div>
<div class="c d" style="left:437px;top:508px;width:53px;height:28px;padding-top:7px">58.9</div>
<div class="c d" style="left:491px;top:508px;width:52px;height:28px;padding-top:7px">41.9</div>
<div class="c d" style="left:544px;top:508px;width:53px;height:28px;padding-top:7px">51</div>
<div class="c d" style="left:598px;top:508px;width:44px;height:28px;padding-top:7px">31.6</div>
<div class="c d" style="left:643px;top:508px;width:53px;height:28px;padding-top:7px">0</div>
<div class="c l" style="left:2px;top:537px;width:77px;height:28px"><div>Date<br><span class="p">(yyyy/dd)</span></div></div>
<div class="c d" style="left:80px;top:537px;width:44px;height:28px;padding-top:7px">2001/05</div>
<div class="c d" style="left:125px;top:537px;width:53px;height:28px;padding-top:7px">2000/25</div>
<div class="c d" style="left:179px;top:537px;width:52px;height:28px;padding-top:7px">1990/12</div>
<div class="c d" style="left:232px;top:537px;width:44px;height:28px;padding-top:7px">1964/12</div>
<div class="c d" style="left:277px;top:537px;width:52px;height:28px;padding-top:7px">1990/15</div>
<div class="c d b" style="left:330px;top:537px;width:53px;height:28px;padding-top:7px">1963/09</div>
<div class="c d" style="left:384px;top:537px;width:52px;height:28px;padding-top:7px">2000/06</div>
<div class="c d" style="left:437px;top:537px;width:53px;height:28px;padding-top:7px">1962/10</div>
<div class="c d" style="left:491px;top:537px;width:52px;height:28px;padding-top:7px">1965/04</div>
<div class="c d" style="left:544px;top:537px;width:53px;height:28px;padding-top:7px">1984/15</div>
<div class="c d" style="left:598px;top:537px;width:44px;height:28px;padding-top:7px">2000/01</div>
<div class="c d" style="left:643px;top:537px;width:53px;height:28px;padding-top:7px">1963/01+</div>
<div class="c l" style="left:2px;top:566px;width:77px;height:41px"><div>Extreme Daily<br>Snowfall<br><span class="p">(cm)</span></div></div>
<div class="c d" style="left:80px;top:566px;width:44px;height:41px;padding-top:14px">17</div>
<div class="c d" style="left:125px;top:566px;width:53px;height:41px;padding-top:14px">18</div>
<div class="c d" style="left:179px;top:566px;width:52px;height:41px;padding-top:14px">22.9</div>
<div class="c d" style="left:232px;top:566px;width:44px;height:41px;padding-top:14px">24.4</div>
<div class="c d" style="left:277px;top:566px;width:52px;height:41px;padding-top:14px">19</div>
<div class="c d" style="left:330px;top:566px;width:53px;height:41px;padding-top:14px">0</div>
<div class="c d" style="left:384px;top:566px;width:52px;height:41px;padding-top:14px">0</div>
<div class="c d" style="left:437px;top:566px;width:53px;height:41px;padding-top:14px">0</div>
<div class="c d" style="left:491px;top:566px;width:52px;height:41px;padding-top:14px">2</div>
<div class="c d b" style="left:544px;top:566px;width:53px;height:41px;padding-top:14px">28</div>
<div class="c d" style="left:598px;top:566px;width:44px;height:41px;padding-top:14px">22</div>
<div class="c d" style="left:643px;top:566px;width:53px;height:41px;padding-top:14px">17</div>
<div class="c l" style="left:2px;top:608px;width:77px;height:28px"><div>Date<br><span class="p">(yyyy/dd)</span></div></div>
<div class="c d" style="left:80px;top:608px;width:44px;height:28px;padding-top:7px">1995/15</div>
<div class="c d" style="left:125px;top:608px;width:53px;height:28px;padding-top:7px">1985/08</div>
<div class="c d" style="left:179px;top:608px;width:52px;height:28px;padding-top:7px">1964/18+</div>
<div class="c d" style="left:232px;top:608px;width:44px;height:28px;padding-top:7px">1999/03</div>
<div class="c d" style="left:277px;top:608px;width:52px;height:28px;padding-top:7px">1991/03</div>
<div class="c d" style="left:330px;top:608px;width:53px;height:28px;padding-top:7px">1962/11+</div>
<div class="c d" style="left:384px;top:608px;width:52px;height:28px;padding-top:7px">1962/01+</div>
<div class="c d" style="left:437px;top:608px;width:53px;height:28px;padding-top:7px">1962/01+</div>
<div class="c d" style="left:491px;top:608px;width:52px;height:28px;padding-top:7px">1980/25+</div>
<div class="c d b" style="left:544px;top:608px;width:53px;height:28px;padding-top:7px">1991/28</div>
<div class="c d" style="left:598px;top:608px;width:44px;height:28px;padding-top:7px">1984/25</div>
<div class="c d" style="left:643px;top:608px;width:53px;height:28px;padding-top:7px">1996/20+</div>
<div class="c l" style="left:2px;top:637px;width:77px;height:41px"><div>Extreme Daily<br>Precipitation<br><span class="p">(mm)</span></div></div>
<div class="c d" style="left:80px;top:637px;width:44px;height:41px;padding-top:14px">17</div>
<div class="c d" style="left:125px;top:637px;width:53px;height:41px;padding-top:14px">18</div>
<div class="c d" style="left:179px;top:637px;width:52px;height:41px;padding-top:14px">24</div>
<div class="c d" style="left:232px;top:637px;width:44px;height:41px;padding-top:14px">34.3</div>
<div class="c d" style="left:277px;top:637px;width:52px;height:41px;padding-top:14px">44</div>
<div class="c d b" style="left:330px;top:637px;width:53px;height:41px;padding-top:14px"><div>68<span style="letter-spacing:0">.</span>8</div></div>
<div class="c d" style="left:384px;top:637px;width:52px;height:41px;padding-top:14px">55.4</div>
<div class="c d" style="left:437px;top:637px;width:53px;height:41px;padding-top:14px">58.9</div>
<div class="c d" style="left:491px;top:637px;width:52px;height:41px;padding-top:14px">41.9</div>
<div class="c d" style="left:544px;top:637px;width:53px;height:41px;padding-top:14px">51</div>
<div class="c d" style="left:598px;top:637px;width:44px;height:41px;padding-top:14px">31.6</div>
<div class="c d" style="left:643px;top:637px;width:53px;height:41px;padding-top:14px">17</div>
<div class="c l" style="left:2px;top:679px;width:77px;height:28px"><div>Date<br><span class="p">(yyyy/dd)</span></div></div>
<div class="c d" style="left:80px;top:679px;width:44px;height:28px;padding-top:7px">1995/15</div>
<div class="c d" style="left:125px;top:679px;width:53px;height:28px;padding-top:7px">1985/08</div>
<div class="c d" style="left:179px;top:679px;width:52px;height:28px;padding-top:7px">1990/12</div>
<div class="c d" style="left:232px;top:679px;width:44px;height:28px;padding-top:7px">1964/12</div>
<div class="c d" style="left:277px;top:679px;width:52px;height:28px;padding-top:7px">1990/15</div>
<div class="c d b" style="left:330px;top:679px;width:53px;height:28px;padding-top:7px">1963/09</div>
<div class="c d" style="left:384px;top:679px;width:52px;height:28px;padding-top:7px">2000/06</div>
<div class="c d" style="left:437px;top:679px;width:53px;height:28px;padding-top:7px">1962/10</div>
<div class="c d" style="left:491px;top:679px;width:52px;height:28px;padding-top:7px">1965/04</div>
<div class="c d" style="left:544px;top:679px;width:53px;height:28px;padding-top:7px">1984/15</div>
<div class="c d" style="left:598px;top:679px;width:44px;height:28px;padding-top:7px">2000/01</div>
<div class="c d" style="left:643px;top:679px;width:53px;height:28px;padding-top:7px">1996/20+</div>
<div class="c l" style="left:2px;top:708px;width:77px;height:41px"><div>Extreme<br>Snow Depth<br><span class="p">(cm)</span></div></div>
<div class="c d" style="left:80px;top:708px;width:44px;height:41px;padding-top:14px">60</div>
<div class="c d" style="left:125px;top:708px;width:53px;height:41px;padding-top:14px">58</div>
<div class="c d" style="left:179px;top:708px;width:52px;height:41px;padding-top:14px">58</div>
<div class="c d" style="left:232px;top:708px;width:44px;height:41px;padding-top:14px">36</div>
<div class="c d" style="left:277px;top:708px;width:52px;height:41px;padding-top:14px">0</div>
<div class="c d" style="left:330px;top:708px;width:53px;height:41px;padding-top:14px">0</div>
<div class="c d" style="left:384px;top:708px;width:52px;height:41px;padding-top:14px">0</div>
<div class="c d" style="left:437px;top:708px;width:53px;height:41px;padding-top:14px">0</div>
<div class="c d" style="left:491px;top:708px;width:52px;height:41px;padding-top:14px">1</div>
<div class="c d" style="left:544px;top:708px;width:53px;height:41px;padding-top:14px">28</div>
<div class="c d" style="left:598px;top:708px;width:44px;height:41px;padding-top:14px">40</div>
<div class="c d b" style="left:643px;top:708px;width:53px;height:41px;padding-top:14px">60</div>
<div class="c l" style="left:2px;top:750px;width:77px;height:28px"><div>Date<br><span class="p">(yyyy/dd)</span></div></div>
<div class="c d" style="left:80px;top:750px;width:44px;height:28px;padding-top:7px">2001/01</div>
<div class="c d" style="left:125px;top:750px;width:53px;height:28px;padding-top:7px">1965/28</div>
<div class="c d" style="left:179px;top:750px;width:52px;height:28px;padding-top:7px">1965/01+</div>
<div class="c d" style="left:232px;top:750px;width:44px;height:28px;padding-top:7px">1970/01</div>
<div class="c d" style="left:277px;top:750px;width:52px;height:28px;padding-top:7px">1963/01+</div>
<div class="c d" style="left:330px;top:750px;width:53px;height:28px;padding-top:7px">1962/01+</div>
<div class="c d" style="left:384px;top:750px;width:52px;height:28px;padding-top:7px">1962/01+</div>
<div class="c d" style="left:437px;top:750px;width:53px;height:28px;padding-top:7px">1962/01+</div>
<div class="c d" style="left:491px;top:750px;width:52px;height:28px;padding-top:7px">1993/13</div>
<div class="c d" style="left:544px;top:750px;width:53px;height:28px;padding-top:7px">1991/31</div>
<div class="c d" style="left:598px;top:750px;width:44px;height:28px;padding-top:7px">1995/30</div>
<div class="c d b" style="left:643px;top:750px;width:53px;height:28px;padding-top:7px">2000/31</div>
</div>
</body></html>
